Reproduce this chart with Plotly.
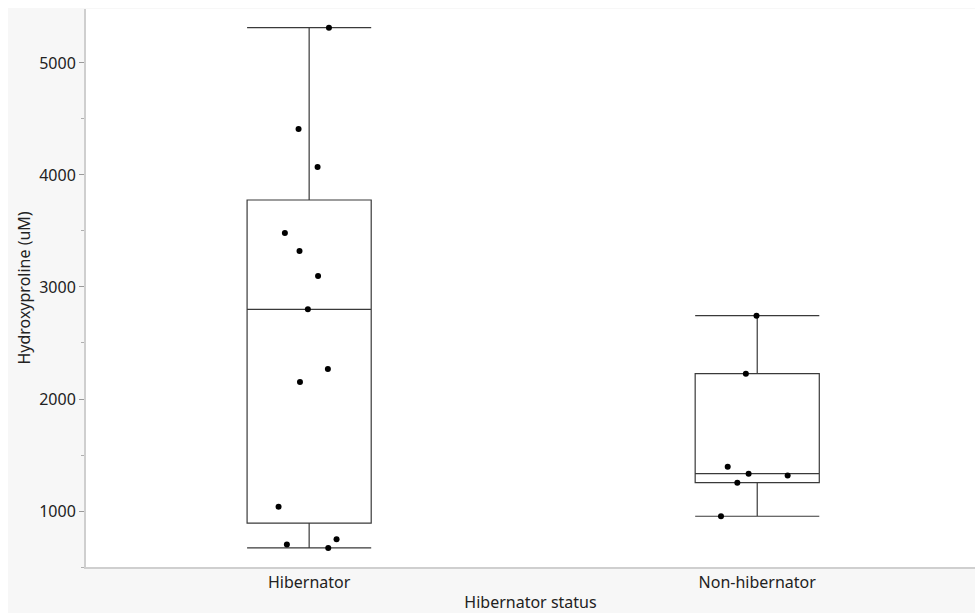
import plotly.graph_objects as go

categories = ["Hibernator", "Non-hibernator"]
hibernator_values = [5315, 4411, 4071, 3482, 3321, 3098, 2801, 2268, 2152, 1038, 747, 702, 670]
non_hibernator_values = [2744, 2226, 1396, 1333, 1318, 1253, 953]
y_ticks = [1000, 2000, 3000, 4000, 5000]

x_all = [categories[0]] * len(hibernator_values) + [categories[1]] * len(non_hibernator_values)
y_all = hibernator_values + non_hibernator_values

W, H = 975, 613
ML, MR, MT, MB = 86, 0, 9, 46
PW, PH = W - ML - MR, H - MT - MB

fig = go.Figure()
fig.add_trace(go.Box(
    x=x_all, y=y_all,
    boxpoints="all", jitter=0.6, pointpos=0,
    quartilemethod="exclusive",
    width=0.277, whiskerwidth=1,
    fillcolor="rgba(255,255,255,0)",
    line=dict(color="#3a3a3a", width=1.2),
    marker=dict(color="black", size=6),
    showlegend=False,
))

font_family = "Noto Sans, Open Sans, sans-serif"
fig.update_layout(
    width=W, height=H,
    margin=dict(l=ML, r=MR, t=MT, b=MB, pad=0),
    paper_bgcolor="#f7f7f7",
    plot_bgcolor="white",
    font=dict(family=font_family, size=16, color="#222222"),
    showlegend=False,
    xaxis=dict(
        type="category", categoryorder="array", categoryarray=categories,
        range=[-0.498, 1.486],
        showline=True, linecolor="#cfcfcf", linewidth=2,
        ticks="", showgrid=False, zeroline=False,
        tickfont=dict(size=16),
        title=dict(text="Hibernator status", font=dict(size=16), standoff=7),
    ),
    yaxis=dict(
        range=[500, 5482],
        tickvals=y_ticks,
        showline=True, linecolor="#cfcfcf", linewidth=2,
        ticks="outside", ticklen=5, tickcolor="#9a9a9a", tickwidth=1,
        minor=dict(dtick=500, tick0=0, ticks="outside", ticklen=3, tickcolor="#b0b0b0"),
        showgrid=False, zeroline=False,
        tickfont=dict(size=16),
        title=dict(text="Hydroxyproline (uM)", font=dict(size=16), standoff=5),
    ),
    shapes=[
        dict(type="rect", xref="paper", yref="paper", layer="below",
             x0=-ML / PW, x1=(8 - ML) / PW, y0=-MB / PH, y1=1 + MT / PH,
             fillcolor="white", line=dict(width=0)),
        dict(type="rect", xref="paper", yref="paper", layer="below",
             x0=-ML / PW, x1=1, y0=1 + 1 / PH, y1=1 + MT / PH,
             fillcolor="white", line=dict(width=0)),
    ],
)

fig.write_html(
    "out.html",
    config={"displayModeBar": False},
    post_script=(
        "document.body.style.margin='0';"
        "document.documentElement.style.overflow='hidden';"
        "document.body.style.overflow='hidden';"
    ),
)
